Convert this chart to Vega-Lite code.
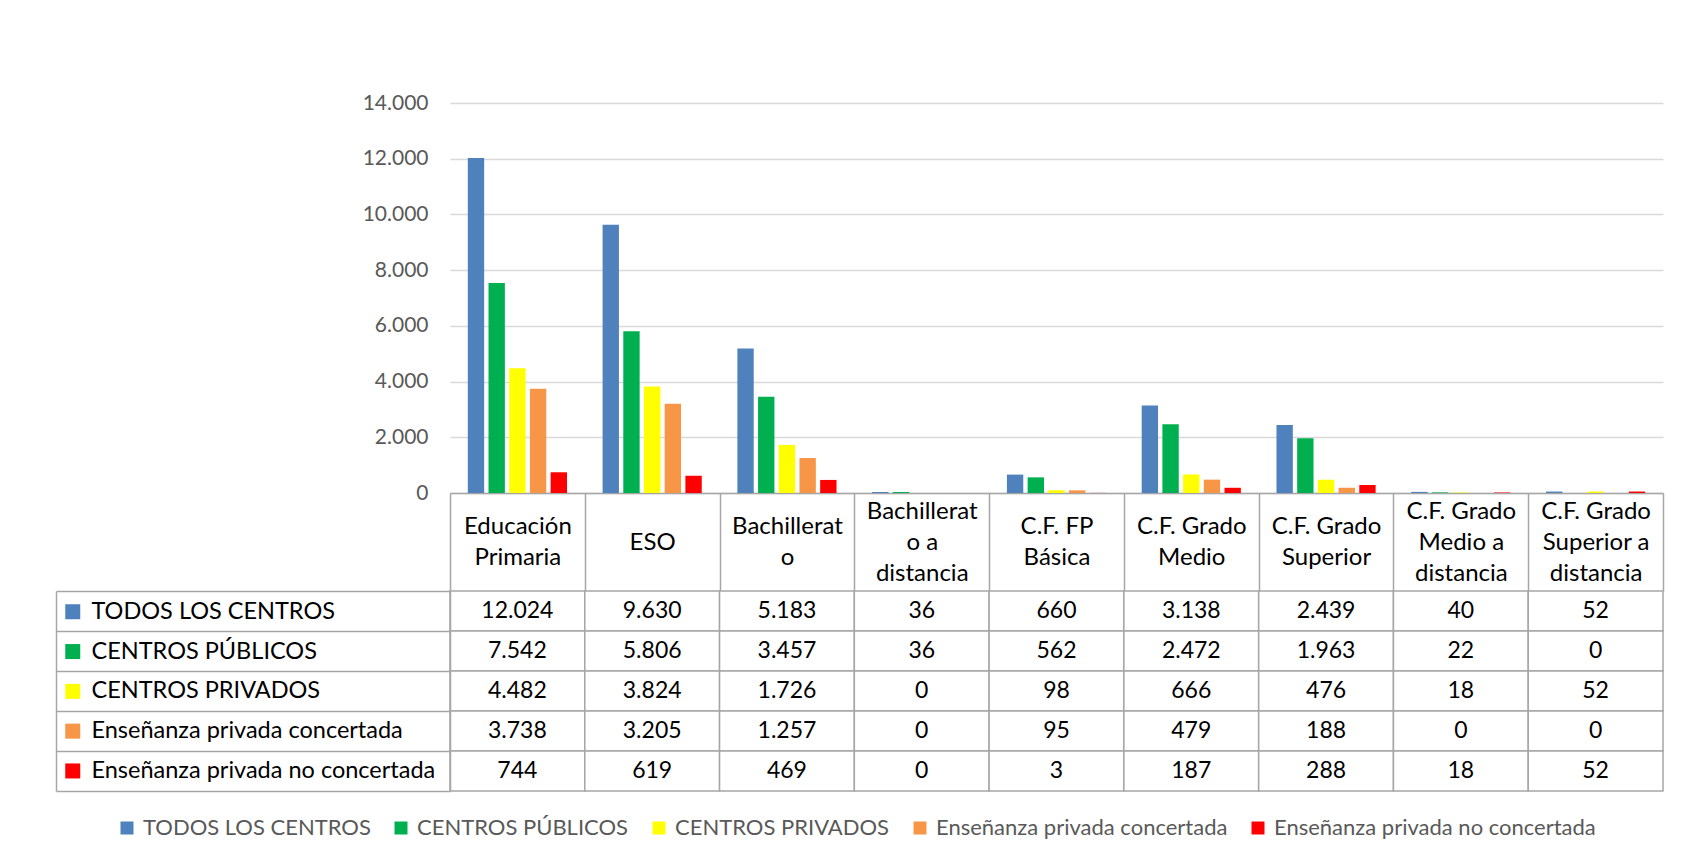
{
  "$schema": "https://vega.github.io/schema/vega-lite/v6.json",
  "padding": {"left": 55, "top": 92, "right": 20, "bottom": 10},
  "background": "white",
  "bounds": "flush",
  "spacing": 98,
  "config": {
    "font": "Lato",
    "view": {"stroke": null},
    "locale": {"number": {"decimal": ",", "thousands": ".", "grouping": [3], "currency": ["", " €"]}}
  },
  "datasets": {
    "d": [
      {"category": "Educación Primaria", "series": "TODOS LOS CENTROS", "value": 12024},
      {"category": "ESO", "series": "TODOS LOS CENTROS", "value": 9630},
      {"category": "Bachillerato", "series": "TODOS LOS CENTROS", "value": 5183},
      {"category": "Bachillerato a distancia", "series": "TODOS LOS CENTROS", "value": 36},
      {"category": "C.F. FP Básica", "series": "TODOS LOS CENTROS", "value": 660},
      {"category": "C.F. Grado Medio", "series": "TODOS LOS CENTROS", "value": 3138},
      {"category": "C.F. Grado Superior", "series": "TODOS LOS CENTROS", "value": 2439},
      {"category": "C.F. Grado Medio a distancia", "series": "TODOS LOS CENTROS", "value": 40},
      {"category": "C.F. Grado Superior a distancia", "series": "TODOS LOS CENTROS", "value": 52},
      {"category": "Educación Primaria", "series": "CENTROS PÚBLICOS", "value": 7542},
      {"category": "ESO", "series": "CENTROS PÚBLICOS", "value": 5806},
      {"category": "Bachillerato", "series": "CENTROS PÚBLICOS", "value": 3457},
      {"category": "Bachillerato a distancia", "series": "CENTROS PÚBLICOS", "value": 36},
      {"category": "C.F. FP Básica", "series": "CENTROS PÚBLICOS", "value": 562},
      {"category": "C.F. Grado Medio", "series": "CENTROS PÚBLICOS", "value": 2472},
      {"category": "C.F. Grado Superior", "series": "CENTROS PÚBLICOS", "value": 1963},
      {"category": "C.F. Grado Medio a distancia", "series": "CENTROS PÚBLICOS", "value": 22},
      {"category": "C.F. Grado Superior a distancia", "series": "CENTROS PÚBLICOS", "value": 0},
      {"category": "Educación Primaria", "series": "CENTROS PRIVADOS", "value": 4482},
      {"category": "ESO", "series": "CENTROS PRIVADOS", "value": 3824},
      {"category": "Bachillerato", "series": "CENTROS PRIVADOS", "value": 1726},
      {"category": "Bachillerato a distancia", "series": "CENTROS PRIVADOS", "value": 0},
      {"category": "C.F. FP Básica", "series": "CENTROS PRIVADOS", "value": 98},
      {"category": "C.F. Grado Medio", "series": "CENTROS PRIVADOS", "value": 666},
      {"category": "C.F. Grado Superior", "series": "CENTROS PRIVADOS", "value": 476},
      {"category": "C.F. Grado Medio a distancia", "series": "CENTROS PRIVADOS", "value": 18},
      {"category": "C.F. Grado Superior a distancia", "series": "CENTROS PRIVADOS", "value": 52},
      {"category": "Educación Primaria", "series": "Enseñanza privada concertada", "value": 3738},
      {"category": "ESO", "series": "Enseñanza privada concertada", "value": 3205},
      {"category": "Bachillerato", "series": "Enseñanza privada concertada", "value": 1257},
      {"category": "Bachillerato a distancia", "series": "Enseñanza privada concertada", "value": 0},
      {"category": "C.F. FP Básica", "series": "Enseñanza privada concertada", "value": 95},
      {"category": "C.F. Grado Medio", "series": "Enseñanza privada concertada", "value": 479},
      {"category": "C.F. Grado Superior", "series": "Enseñanza privada concertada", "value": 188},
      {"category": "C.F. Grado Medio a distancia", "series": "Enseñanza privada concertada", "value": 0},
      {"category": "C.F. Grado Superior a distancia", "series": "Enseñanza privada concertada", "value": 0},
      {"category": "Educación Primaria", "series": "Enseñanza privada no concertada", "value": 744},
      {"category": "ESO", "series": "Enseñanza privada no concertada", "value": 619},
      {"category": "Bachillerato", "series": "Enseñanza privada no concertada", "value": 469},
      {"category": "Bachillerato a distancia", "series": "Enseñanza privada no concertada", "value": 0},
      {"category": "C.F. FP Básica", "series": "Enseñanza privada no concertada", "value": 3},
      {"category": "C.F. Grado Medio", "series": "Enseñanza privada no concertada", "value": 187},
      {"category": "C.F. Grado Superior", "series": "Enseñanza privada no concertada", "value": 288},
      {"category": "C.F. Grado Medio a distancia", "series": "Enseñanza privada no concertada", "value": 18},
      {"category": "C.F. Grado Superior a distancia", "series": "Enseñanza privada no concertada", "value": 52}
    ]
  },
  "vconcat": [
    {
      "width": 1213,
      "height": 390,
      "data": {"name": "d"},
      "mark": {"type": "bar"},
      "encoding": {
        "x": {
          "field": "category", "type": "nominal",
          "sort": ["Educación Primaria", "ESO", "Bachillerato", "Bachillerato a distancia", "C.F. FP Básica", "C.F. Grado Medio", "C.F. Grado Superior", "C.F. Grado Medio a distancia", "C.F. Grado Superior a distancia"],
          "scale": {"paddingInner": 0, "paddingOuter": 0},
          "axis": {
            "title": null, "labelAngle": 0, "tickBand": "extent", "tickExtra": true,
            "tickSize": 98, "tickColor": "#a6a6a6", "tickWidth": 1.5,
            "domainColor": "#a6a6a6", "domainWidth": 1.5,
            "labelPadding": {
              "condition": [
                {"test": "indexof(['Bachillerato a distancia', 'C.F. Grado Medio a distancia', 'C.F. Grado Superior a distancia'], datum.value) >= 0", "value": -80},
                {"test": "datum.value == 'ESO'", "value": -49}
              ],
              "value": -64.5
            },
            "labelBaseline": "middle", "labelFontSize": 24, "labelColor": "#000000",
            "labelLineHeight": 31, "labelOverlap": false, "labelFlush": false, "labelLimit": 200,
            "labelExpr": "{'Educación Primaria': ['Educación', 'Primaria'], 'ESO': 'ESO', 'Bachillerato': ['Bachillerat', 'o'], 'Bachillerato a distancia': ['Bachillerat', 'o a', 'distancia'], 'C.F. FP Básica': ['C.F. FP', 'Básica'], 'C.F. Grado Medio': ['C.F. Grado', 'Medio'], 'C.F. Grado Superior': ['C.F. Grado', 'Superior'], 'C.F. Grado Medio a distancia': ['C.F. Grado', 'Medio a', 'distancia'], 'C.F. Grado Superior a distancia': ['C.F. Grado', 'Superior a', 'distancia']}[datum.value]"
          }
        },
        "xOffset": {
          "field": "series", "type": "nominal",
          "sort": ["TODOS LOS CENTROS", "CENTROS PÚBLICOS", "CENTROS PRIVADOS", "Enseñanza privada concertada", "Enseñanza privada no concertada"],
          "scale": {"paddingInner": 0.21, "paddingOuter": 0.86}
        },
        "y": {
          "field": "value", "type": "quantitative",
          "scale": {"domain": [0, 14000], "nice": false},
          "axis": {
            "title": null, "values": [0, 2000, 4000, 6000, 8000, 10000, 12000, 14000],
            "format": ",d", "domain": false, "ticks": false,
            "gridColor": "#d9d9d9", "gridWidth": 1.5,
            "labelFontSize": 21, "labelColor": "#595959", "labelPadding": 22
          }
        },
        "color": {
          "field": "series", "type": "nominal",
          "scale": {
            "domain": ["TODOS LOS CENTROS", "CENTROS PÚBLICOS", "CENTROS PRIVADOS", "Enseñanza privada concertada", "Enseñanza privada no concertada"],
            "range": ["#4f81bd", "#00b050", "#ffff00", "#f79646", "#ff0000"]
          },
          "legend": null
        }
      }
    },
    {
      "width": 1213,
      "height": 200,
      "data": {"name": "d"},
      "layer": [
        {
          "mark": {"type": "rect", "fill": "white", "stroke": "#a6a6a6", "strokeWidth": 1.5},
          "encoding": {
            "x": {
              "field": "category", "type": "nominal",
              "sort": ["Educación Primaria", "ESO", "Bachillerato", "Bachillerato a distancia", "C.F. FP Básica", "C.F. Grado Medio", "C.F. Grado Superior", "C.F. Grado Medio a distancia", "C.F. Grado Superior a distancia"],
              "scale": {"paddingInner": 0, "paddingOuter": 0},
              "axis": null
            },
            "y": {
              "field": "series", "type": "nominal",
              "sort": ["TODOS LOS CENTROS", "CENTROS PÚBLICOS", "CENTROS PRIVADOS", "Enseñanza privada concertada", "Enseñanza privada no concertada"],
              "scale": {"paddingInner": 0, "paddingOuter": 0},
              "axis": {
                "orient": "left", "title": null, "labels": false, "grid": false,
                "tickBand": "extent", "tickExtra": true, "tickSize": 394,
                "tickColor": "#a6a6a6", "tickWidth": 1.5,
                "domainColor": "#a6a6a6", "domainWidth": 1.5
              }
            }
          }
        },
        {
          "mark": {"type": "text", "fontSize": 23, "color": "#000000", "baseline": "middle"},
          "encoding": {
            "x": {
              "field": "category", "type": "nominal",
              "sort": ["Educación Primaria", "ESO", "Bachillerato", "Bachillerato a distancia", "C.F. FP Básica", "C.F. Grado Medio", "C.F. Grado Superior", "C.F. Grado Medio a distancia", "C.F. Grado Superior a distancia"],
              "scale": {"paddingInner": 0, "paddingOuter": 0},
              "axis": null
            },
            "y": {
              "field": "series", "type": "nominal",
              "sort": ["TODOS LOS CENTROS", "CENTROS PÚBLICOS", "CENTROS PRIVADOS", "Enseñanza privada concertada", "Enseñanza privada no concertada"],
              "scale": {"paddingInner": 0, "paddingOuter": 0},
              "axis": {
                "orient": "left", "title": null, "labels": false, "ticks": false, "grid": false,
                "offset": 394, "domainColor": "#a6a6a6", "domainWidth": 1.5
              }
            },
            "text": {"field": "value", "type": "quantitative", "format": ",d"}
          }
        },
        {
          "mark": {"type": "point", "shape": "square", "filled": true, "opacity": 0},
          "encoding": {
            "color": {
              "field": "series", "type": "nominal",
              "scale": {
                "domain": ["TODOS LOS CENTROS", "CENTROS PÚBLICOS", "CENTROS PRIVADOS", "Enseñanza privada concertada", "Enseñanza privada no concertada"],
                "range": ["#4f81bd", "#00b050", "#ffff00", "#f79646", "#ff0000"]
              },
              "legend": {
                "orient": "none", "legendX": -389, "legendY": 9, "direction": "vertical",
                "title": null, "symbolType": "square", "symbolSize": 225, "symbolOpacity": 1,
                "symbolStrokeWidth": 0, "labelFontSize": 23.5, "labelColor": "#000000",
                "rowPadding": 14.8, "labelOffset": 7, "labelLimit": 400, "padding": 0
              }
            }
          }
        },
        {
          "mark": {"type": "point", "shape": "square", "filled": true, "opacity": 0},
          "encoding": {
            "color": {
              "field": "series", "type": "nominal",
              "scale": {
                "domain": ["TODOS LOS CENTROS", "CENTROS PÚBLICOS", "CENTROS PRIVADOS", "Enseñanza privada concertada", "Enseñanza privada no concertada"],
                "range": ["#4f81bd", "#00b050", "#ffff00", "#f79646", "#ff0000"]
              },
              "legend": {
                "orient": "none", "legendX": -334, "legendY": 226, "direction": "horizontal",
                "columns": 5, "title": null, "symbolType": "square", "symbolSize": 169, "symbolOpacity": 1,
                "symbolStrokeWidth": 0, "labelFontSize": 22, "labelColor": "#595959",
                "columnPadding": 19, "labelOffset": 5, "labelLimit": 400, "padding": 0
              }
            }
          }
        }
      ],
      "resolve": {
        "scale": {"y": "independent"},
        "axis": {"y": "independent"},
        "legend": {"color": "independent"}
      }
    }
  ]
}
